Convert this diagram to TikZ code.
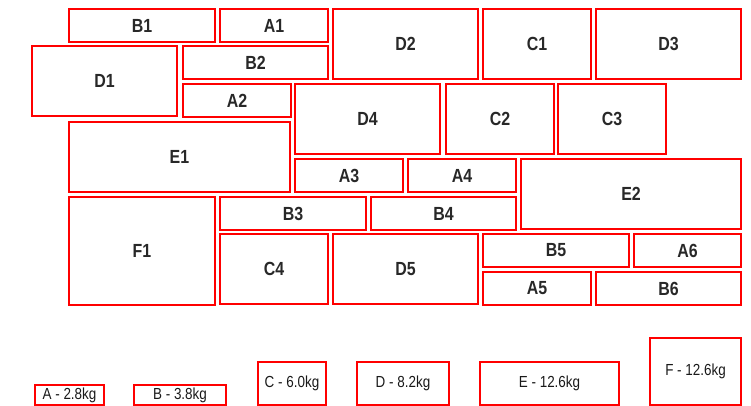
\documentclass[tikz,border=0pt]{standalone}
\usepackage{fontspec}
\setmainfont{Liberation Sans}[FakeStretch=0.84]
\usetikzlibrary{positioning}

\definecolor{boxred}{RGB}{255,0,0}
\definecolor{labelgray}{RGB}{40,40,40}

\tikzset{
	box/.style={draw=boxred,line width=2pt,inner sep=0pt,anchor=north west,
		text=labelgray,font=\fontsize{19}{19}\selectfont\bfseries},
	abox/.style={box,minimum width=108pt,minimum height=33pt},
	bbox/.style={box,minimum width=146pt,minimum height=33pt},
	cbox/.style={box,minimum width=108pt,minimum height=70pt},
	dbox/.style={box,minimum width=145pt,minimum height=70pt},
	ebox/.style={box,minimum width=221pt,minimum height=70pt},
	fbox/.style={box,minimum width=146pt,minimum height=108pt},
	keybox/.style={box,text=black!90,font=\fontsize{16}{16}\selectfont}
}

\begin{document}
\begin{tikzpicture}[x=1pt,y=-1pt]
	\useasboundingbox (0,0) rectangle (751,405);
	
	% top row
	\node [bbox] (B1) at (68,8) {B1};
	\node [abox] (A1) at (219,8) {A1};
	\node [dbox] (D2) at (332,8) {D2};
	\node [cbox] (C1) at (482,8) {C1};
	\node [dbox] (D3) at (595,8) {D3};
	
	% second band
	\node [dbox] (D1) at (31,45) {D1};
	\node [bbox,minimum width=145pt] (B2) at (182,45) {B2};
	\node [abox] (A2) at (182,83) {A2};
	\node [dbox] (D4) at (294,83) {D4};
	\node [cbox] (C2) at (445,83) {C2};
	\node [cbox] (C3) at (557,83) {C3};
	
	% third band
	\node [ebox] (E1) at (68,121) {E1};
	\node [abox] (A3) at (294,158) {A3};
	\node [abox] (A4) at (407,158) {A4};
	\node [ebox,minimum width=220pt] (E2) at (520,158) {E2};
	
	% bottom band
	\node [fbox] (F1) at (68,196) {F1};
	\node [bbox] (B3) at (219,196) {B3};
	\node [bbox,minimum width=145pt] (B4) at (370,196) {B4};
	\node [cbox] (C4) at (219,233) {C4};
	\node [dbox] (D5) at (332,233) {D5};
	\node [bbox] (B5) at (482,233) {B5};
	\node [abox,minimum width=107pt] (A6) at (633,233) {A6};
	\node [abox] (A5) at (482,271) {A5};
	\node [bbox,minimum width=145pt] (B6) at (595,271) {B6};
	
	% key
	\node [keybox,minimum width=69pt,minimum height=20pt] (keyA) at (34,384) {A - 2.8kg};
	\node [keybox,minimum width=92pt,minimum height=20pt] (keyB) at (133,384) {B - 3.8kg};
	\node [keybox,minimum width=68pt,minimum height=43pt] (keyC) at (257,361) {C - 6.0kg};
	\node [keybox,minimum width=92pt,minimum height=43pt] (keyD) at (356,361) {D - 8.2kg};
	\node [keybox,minimum width=139pt,minimum height=43pt] (keyE) at (479,361) {E - 12.6kg};
	\node [keybox,minimum width=91pt,minimum height=67pt] (keyF) at (649,337) {F - 12.6kg};
\end{tikzpicture}
\end{document}
